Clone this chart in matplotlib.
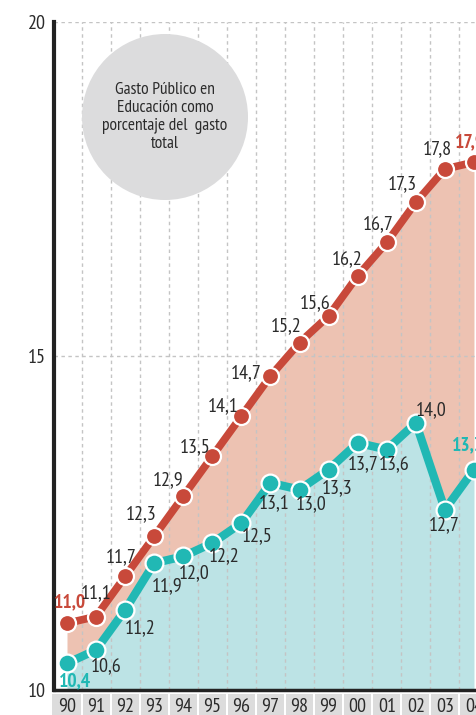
import numpy as np
import matplotlib
matplotlib.use("Agg")
import matplotlib.pyplot as plt
from matplotlib.patches import Rectangle, Ellipse
import matplotlib.transforms as mtransforms

plt.rcParams['font.family'] = ['PT Sans Narrow', 'DejaVu Sans']

# data
years = np.arange(90, 105)
year_labels = ['90', '91', '92', '93', '94', '95', '96', '97', '98', '99',
               '00', '01', '02', '03', '04']
total = [11.0, 11.1, 11.7, 12.3, 12.9, 13.5, 14.1, 14.7, 15.2, 15.6,
         16.2, 16.7, 17.3, 17.8, 17.9]
educ = [10.4, 10.6, 11.2, 11.9, 12.0, 12.2, 12.5, 13.1, 13.0, 13.3,
        13.7, 13.6, 14.0, 12.7, 13.3]

# label offsets in pixels (dx right, dy up)
red_off = [(3, 21), (0, 23), (-4, 19), (-13, 22), (-15, 16), (-17, 9), (-18, 10),
           (-24, 3), (-13, 16), (-13, 13), (-11, 17), (-9, 18), (-13, 18), (-8, 20), (-4, 20)]
teal_off = [(8, -18), (10, -16), (15, -18), (13, -23), (11, -17), (12, -13), (16, -13),
            (4, -20), (12, -15), (9, -19), (6, -21), (7, -15), (15, 13), (-1, -16), (-6, 24)]

RED = '#C8493A'
TEAL = '#21B8B4'
RED_FILL = '#EDC2B2'
TEAL_FILL = '#BCE3E5'
TXT = '#2b2b2b'

fig = plt.figure(figsize=(4.77, 7.15), dpi=100)
W, H = 477, 715
x_left = 89.553
px_per_year = 29.07
x_right = 104.6
ax_w = (x_right - x_left) * px_per_year
ax = fig.add_axes([54 / W, 25 / H, ax_w / W, 668 / H])
ax.set_xlim(x_left, x_right)
ax.set_ylim(10, 20)

ax.fill_between(years, 10, educ, color=TEAL_FILL, lw=0, zorder=1)
ax.fill_between(years, educ, total, color=RED_FILL, lw=0, zorder=1)

# grid
for yr in years:
    ax.axvline(yr + 0.5, color='#c4c4c4', lw=1, ls=(0, (2.5, 2.5)), zorder=2)
for yv in [15, 20]:
    ax.axhline(yv, color='#c4c4c4', lw=1, ls=(0, (2.5, 2.5)), zorder=2)

ax.plot(years, total, color=RED, lw=5.5, zorder=4, solid_joinstyle='round')
ax.plot(years, educ, color=TEAL, lw=6, zorder=4, solid_joinstyle='round')
ax.scatter(years, total, s=150, color=RED, edgecolor='white', linewidth=1.6, zorder=5)
ax.scatter(years, educ, s=165, color=TEAL, edgecolor='white', linewidth=1.6, zorder=5)

def fmt(v):
    return ('%.1f' % v).replace('.', ',')

for i, (yr, v) in enumerate(zip(years, total)):
    bold = i in (0, len(years) - 1)
    ax.annotate(fmt(v), (yr, v), xytext=red_off[i], textcoords='offset pixels',
                ha='center', va='center', fontsize=14 if bold else 14.5,
                color=RED if bold else TXT,
                fontweight='bold' if bold else 'normal', zorder=8,
                annotation_clip=False)
for i, (yr, v) in enumerate(zip(years, educ)):
    bold = i in (0, len(years) - 1)
    ax.annotate(fmt(v), (yr, v), xytext=teal_off[i], textcoords='offset pixels',
                ha='center', va='center', fontsize=14 if bold else 14.5,
                color=TEAL if bold else TXT,
                fontweight='bold' if bold else 'normal', zorder=8,
                annotation_clip=False)

# spines
for s in ['top', 'right']:
    ax.spines[s].set_visible(False)
ax.spines['left'].set_linewidth(3)
ax.spines['left'].set_color('#222222')
ax.spines['bottom'].set_linewidth(2.5)
ax.spines['bottom'].set_color('#222222')
ax.spines['left'].set_zorder(7)
ax.spines['bottom'].set_zorder(7)

ax.set_yticks([10, 15, 20])
ax.set_yticklabels(['10', '15', '20'], fontsize=14.5, color=TXT)
ax.tick_params(axis='y', length=0, pad=6)
ax.set_xticks([])

# x labels in gray boxes
trans = mtransforms.blended_transform_factory(ax.transData, ax.transAxes)
for yr, lab in zip(years, year_labels):
    ax.add_patch(Rectangle((yr - 0.5 + 0.035, -0.07), 1 - 0.07, 0.064,
                           transform=trans, color='#dcdcdc', lw=0,
                           clip_on=False, zorder=1))
    ax.text(yr, -0.026, lab, transform=trans, ha='center', va='center',
            fontsize=14.5, color=TXT, clip_on=False)
ax.add_patch(Rectangle((x_left, -0.07), 89.5 - x_left, 0.064,
                       transform=trans, color='#dcdcdc', lw=0,
                       clip_on=False, zorder=1))

# info bubble
fig.patches.append(Ellipse((165 / W, 1 - 117 / H), 166 / W, 166 / H,
                           transform=fig.transFigure, color='#dcdcdd',
                           lw=0, zorder=3))
fig.text(165 / W, 1 - 117 / H, 'Gasto Público en\nEducación como\nporcentaje del  gasto\ntotal',
         ha='center', va='center', fontsize=12.5, color=TXT, linespacing=1.15,
         zorder=4)

fig.savefig('out.png', dpi=100)
